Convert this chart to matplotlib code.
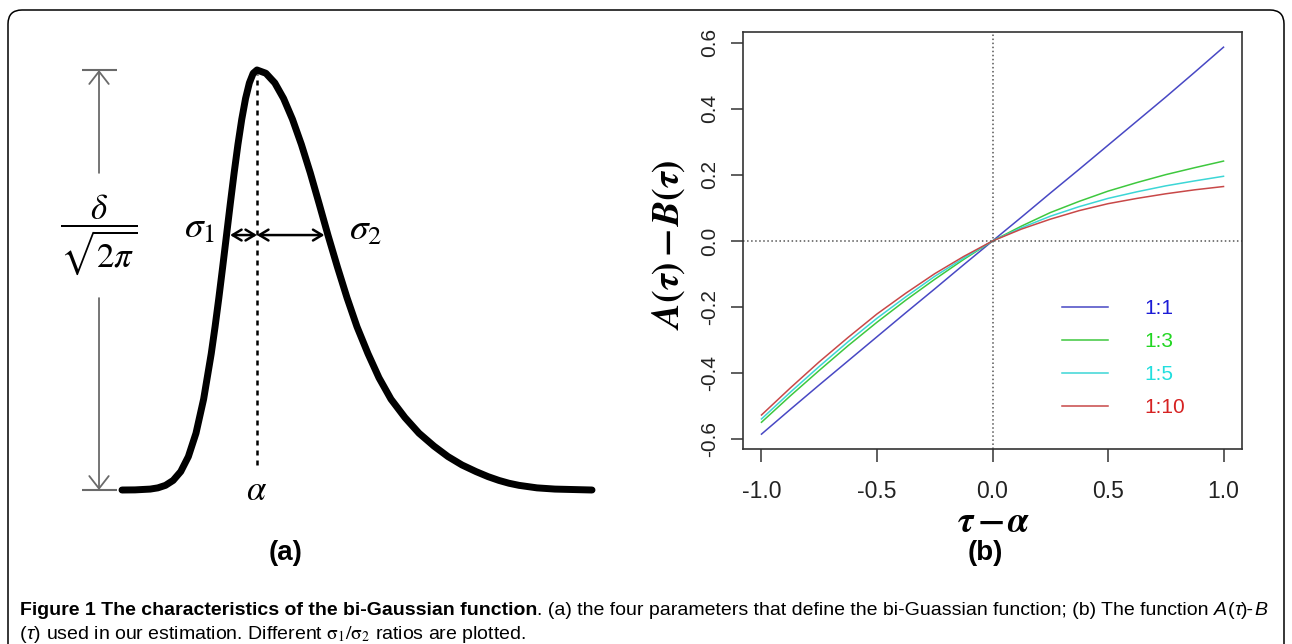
import matplotlib
matplotlib.use('Agg')
import matplotlib.pyplot as plt
from matplotlib.patches import FancyBboxPatch
from matplotlib.transforms import IdentityTransform
from matplotlib.ticker import FormatStrFormatter

W, H = 1292, 644

# panel (a): bi-Gaussian outline, x in sigma1 units from alpha, y as fraction of the peak
curve_x = [-4.426, -4.0, -3.5, -3.25, -3.0, -2.75, -2.5, -2.25, -2.0, -1.75, -1.5, -1.375,
           -1.25, -1.125, -1.0, -0.875, -0.75, -0.625, -0.5, -0.375, -0.25, -0.125, 0.0,
           0.292, 0.584, 0.872, 1.164, 1.456, 1.748, 2.036, 2.328, 2.636, 2.951, 3.279,
           3.639, 4.0, 4.393, 4.852, 5.311, 5.803, 6.262, 6.721, 7.180, 7.574, 7.934,
           8.262, 8.590, 9.180, 9.770, 10.984]
curve_y = [0.0, 0.0003, 0.0022, 0.0051, 0.0111, 0.0228, 0.0439, 0.0796, 0.1353, 0.2163,
           0.3247, 0.3886, 0.4578, 0.5311, 0.6065, 0.6819, 0.7548, 0.8226, 0.8825, 0.9321,
           0.9692, 0.9922, 1.0,
           0.9922, 0.9692, 0.9321, 0.8825, 0.8226, 0.7548, 0.6819, 0.6065, 0.5311, 0.4578,
           0.3886, 0.3247, 0.2671, 0.2163, 0.1724, 0.1353, 0.1045, 0.0796, 0.0596, 0.0439,
           0.0319, 0.0228, 0.0161, 0.0111, 0.0051, 0.0022, 0.0]
alpha = 0.0
sigma1 = 1.0
sigma2 = 2.33
sigma_level = 0.607

# panel (b): A(tau) - B(tau) for several sigma1:sigma2 ratios
tau = [-1.0, -0.875, -0.75, -0.625, -0.5, -0.375, -0.25, -0.125, 0.0,
       0.125, 0.25, 0.375, 0.5, 0.625, 0.75, 0.875, 1.0]
ratios = ['1:1', '1:3', '1:5', '1:10']
diff_1_1 = [-0.585, -0.510, -0.436, -0.363, -0.290, -0.217, -0.145, -0.072, 0.0,
            0.072, 0.145, 0.217, 0.290, 0.363, 0.436, 0.511, 0.587]
diff_1_3 = [-0.549, -0.469, -0.392, -0.317, -0.246, -0.179, -0.116, -0.056, 0.0,
            0.045, 0.086, 0.120, 0.151, 0.177, 0.201, 0.222, 0.242]
diff_1_5 = [-0.539, -0.458, -0.380, -0.305, -0.234, -0.169, -0.107, -0.052, 0.0,
            0.040, 0.075, 0.104, 0.129, 0.149, 0.167, 0.182, 0.196]
diff_1_10 = [-0.527, -0.445, -0.366, -0.292, -0.221, -0.158, -0.099, -0.047, 0.0,
             0.036, 0.066, 0.092, 0.113, 0.129, 0.143, 0.155, 0.165]
line_colors = ['#4848c4', '#3ec83e', '#3cd6d6', '#c84848']
text_colors = ['#1c1cd6', '#22d622', '#22dede', '#d62222']

plt.rcParams['mathtext.fontset'] = 'stix'
plt.rcParams['axes.unicode_minus'] = False
SANS = ['Liberation Sans', 'DejaVu Sans']

fig = plt.figure(figsize=(W / 100, H / 100), dpi=100)


def rect(x0, y0, x1, y1):
    # pixel box (top-left origin) -> figure fraction
    return [x0 / W, 1 - y1 / H, (x1 - x0) / W, (y1 - y0) / H]


# outer rounded frame, open at the bottom
fig.add_artist(FancyBboxPatch((8, -40), 1276, 674, boxstyle='round,pad=0,rounding_size=14',
                              transform=IdentityTransform(), fill=False, ec='black', lw=1.1))

# ---- panel (a)
ax_a = fig.add_axes(rect(60, 40, 620, 520))
ax_a.set_xlim(-6.459, 11.902)
ax_a.set_ylim(-0.0714, 1.0714)
ax_a.axis('off')

ax_a.plot(curve_x, curve_y, color='black', lw=5, solid_capstyle='round', solid_joinstyle='round')
ax_a.vlines(alpha, 0.06, 0.99, colors='black', lw=1.8, linestyles=(0, (2, 2)))

xh = -5.18
grey = '#6a6a6a'
ax_a.hlines([0.0, 1.0], xh - 0.56, xh + 0.59, colors=grey, lw=1.5)
head = dict(arrowstyle='->,head_length=0.45,head_width=0.35', color=grey, lw=1.3,
            mutation_scale=20, shrinkA=0, shrinkB=0)
ax_a.annotate('', xy=(xh, 1.0), xytext=(xh, 0.755), arrowprops=head)
ax_a.annotate('', xy=(xh, 0.0), xytext=(xh, 0.457), arrowprops=head)
ax_a.text(xh, 0.607, r'$\dfrac{\delta}{\sqrt{2\pi}}$', ha='center', va='center', fontsize=25)

dbl = dict(arrowstyle='<->,head_length=0.5,head_width=0.3', color='black', lw=1.8,
           mutation_scale=13, shrinkA=0, shrinkB=2.6)
ax_a.annotate('', xy=(alpha - sigma1, sigma_level), xytext=(alpha, sigma_level), arrowprops=dbl)
ax_a.annotate('', xy=(alpha + sigma2, sigma_level), xytext=(alpha, sigma_level), arrowprops=dbl)
ax_a.text(-1.90, 0.624, r'$\sigma_1$', ha='center', va='center', fontsize=27)
ax_a.text(3.57, 0.62, r'$\sigma_2$', ha='center', va='center', fontsize=27)
ax_a.text(alpha, 0.0, r'$\alpha$', ha='center', va='center', fontsize=25)

fig.text(286 / W, 1 - 553 / H, '(a)', ha='center', va='center', fontsize=20,
         fontweight='bold', family=SANS)

# ---- panel (b)
ax_b = fig.add_axes(rect(743, 32, 1242, 449))
for ys, c, lab in zip([diff_1_1, diff_1_3, diff_1_5, diff_1_10], line_colors, ratios):
    ax_b.plot(tau, ys, color=c, lw=1.1, label=lab)
ax_b.axhline(0, color='#555555', lw=1.1, ls=':')
ax_b.axvline(0, color='#555555', lw=1.1, ls=':')
ax_b.set_xlim(-1.08, 1.08)
ax_b.set_ylim(-0.630, 0.633)
ax_b.set_xticks([-1.0, -0.5, 0.0, 0.5, 1.0])
ax_b.set_yticks([-0.6, -0.4, -0.2, 0.0, 0.2, 0.4, 0.6])
ax_b.xaxis.set_major_formatter(FormatStrFormatter('%.1f'))
ax_b.yaxis.set_major_formatter(FormatStrFormatter('%.1f'))
for sp in ax_b.spines.values():
    sp.set_color('#333333')
    sp.set_linewidth(1.2)
ax_b.tick_params(axis='both', direction='out', length=9, width=1.1, color='#333333',
                 labelcolor='#222222')
ax_b.tick_params(axis='x', pad=13, labelsize=16.5)
ax_b.tick_params(axis='y', pad=8, labelsize=15, labelrotation=90)
for t in ax_b.get_yticklabels() + ax_b.get_xticklabels():
    t.set_family(SANS)
for t in ax_b.get_yticklabels():
    t.set_va('center')

ax_b.legend(loc='upper left', bbox_to_anchor=(1062 / W, 1 - 299 / H), bbox_transform=fig.transFigure,
            frameon=False, borderpad=0, borderaxespad=0, handlelength=2.2, handletextpad=1.75,
            labelspacing=0.67, prop={'family': SANS, 'size': 15}, labelcolor=text_colors)

fig.text(669 / W, 1 - 245 / H, r'$\boldsymbol{A(\tau) - B(\tau)}$', rotation=90,
         ha='center', va='center', fontsize=27)
fig.text(993 / W, 1 - 522 / H, r'$\boldsymbol{\tau - \alpha}$', ha='center', va='center', fontsize=26)
fig.text(985 / W, 1 - 553 / H, '(b)', ha='center', va='center', fontsize=20,
         fontweight='bold', family=SANS)

# ---- caption, built piece by piece on a shared baseline
renderer = fig.canvas.get_renderer()
CAP = 14.0
SPACE = 0.28 * CAP * 100 / 72


def caption_line(parts, x, y):
    for text, style, space in parts:
        if space:
            x += SPACE
        t = fig.text(x / W, 1 - y / H, text, ha='left', va='baseline', fontsize=CAP,
                     family=SANS, **style)
        x = t.get_window_extent(renderer).x1


REG = {}
BOLD = {'fontweight': 'bold'}
ITAL = {'fontstyle': 'italic'}
caption_line([('Figure 1 The characteristics of the bi-Gaussian function', BOLD, False),
              ('. (a) the four parameters that define the bi-Guassian function; (b) The function',
               REG, False),
              ('A', ITAL, True), ('(', REG, False), ('\u03c4', ITAL, False), (')-', REG, False),
              ('B', ITAL, False)], 20, 615)
caption_line([('(', REG, False), ('\u03c4', ITAL, False), (')', REG, False),
              ('used in our estimation. Different $\\mathrm{\\sigma_1/\\sigma_2}$ ratios are plotted.',
               REG, True)], 20, 639)

fig.savefig('out.png', dpi=100)
